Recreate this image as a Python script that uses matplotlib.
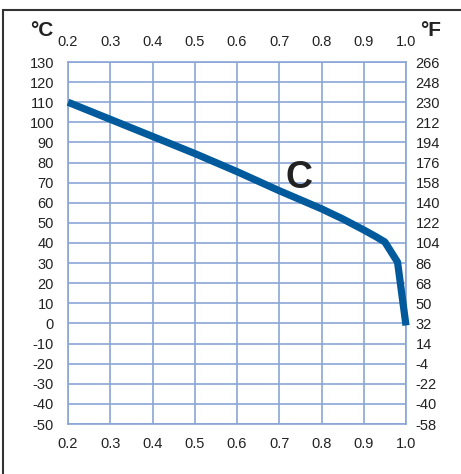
import matplotlib
matplotlib.use("Agg")
from matplotlib import pyplot as plt
from matplotlib.patches import Rectangle

# data
load = [0.2, 0.3, 0.4, 0.5, 0.6, 0.7, 0.8, 0.85, 0.9, 0.93, 0.95, 0.98, 1.0]
temp_c = [110, 101.5, 93, 84.5, 75.5, 66, 57, 52, 46.5, 43, 40.5, 30.5, -1]

x_ticks = [0.2, 0.3, 0.4, 0.5, 0.6, 0.7, 0.8, 0.9, 1.0]
c_ticks = list(range(-50, 131, 10))
f_labels = ["-58", "-40", "-22", "-4", "14", "32", "50", "68", "86", "104",
            "122", "140", "158", "176", "194", "212", "230", "248", "266"]

GRID = "#8aa6d6"
LINE = "#005a9c"
TXT = "#222222"

plt.rcParams['font.family'] = ['Liberation Sans', 'DejaVu Sans']
plt.rcParams['axes.unicode_minus'] = False

fig = plt.figure(figsize=(4.61, 4.74), dpi=100)
ax = fig.add_axes([68/461, 1 - 424/474, (406 - 68)/461, (424 - 62)/474])

ax.plot(load, temp_c, color=LINE, lw=5.2, solid_capstyle='butt',
        solid_joinstyle='round', zorder=3, clip_on=False)
ax.text(0.747, 72.5, "C", fontsize=27, fontweight='bold', color=TXT,
        ha='center', va='center', zorder=4)

ax.set_xlim(0.2, 1.0)
ax.set_ylim(-50, 130)
ax.set_xticks(x_ticks)
ax.set_xticklabels([f"{v:.1f}" for v in x_ticks])
ax.set_yticks(c_ticks)
ax.grid(True, color=GRID, lw=1.2)
ax.set_axisbelow(True)
for s in ax.spines.values():
    s.set_color(GRID)
    s.set_linewidth(1.2)

ax.tick_params(axis='x', length=0, labelsize=10.5, colors=TXT, pad=9,
               top=True, labeltop=True)
ax.tick_params(axis='y', length=0, labelsize=10.5, colors=TXT, pad=10)

ax2 = ax.twinx()
ax2.set_ylim(-50, 130)
ax2.set_yticks(c_ticks)
ax2.set_yticklabels(f_labels)
ax2.tick_params(axis='y', length=0, labelsize=10.5, colors=TXT, pad=7)
for s in ax2.spines.values():
    s.set_visible(False)

fig.text(30/461, 1 - 30/474, "°C", fontsize=15, fontweight='bold', color=TXT,
         ha='left', va='center')
fig.text(420/461, 1 - 30/474, "°F", fontsize=15, fontweight='bold', color=TXT,
         ha='left', va='center')

# outer frame (only the left and top edges show)
fig.patches.append(Rectangle((3/461, -0.1), 1.2, 1 - 10/474 + 0.1,
                             transform=fig.transFigure, fill=False,
                             edgecolor="#333333", lw=1.5))

fig.savefig("out.png", dpi=100)
